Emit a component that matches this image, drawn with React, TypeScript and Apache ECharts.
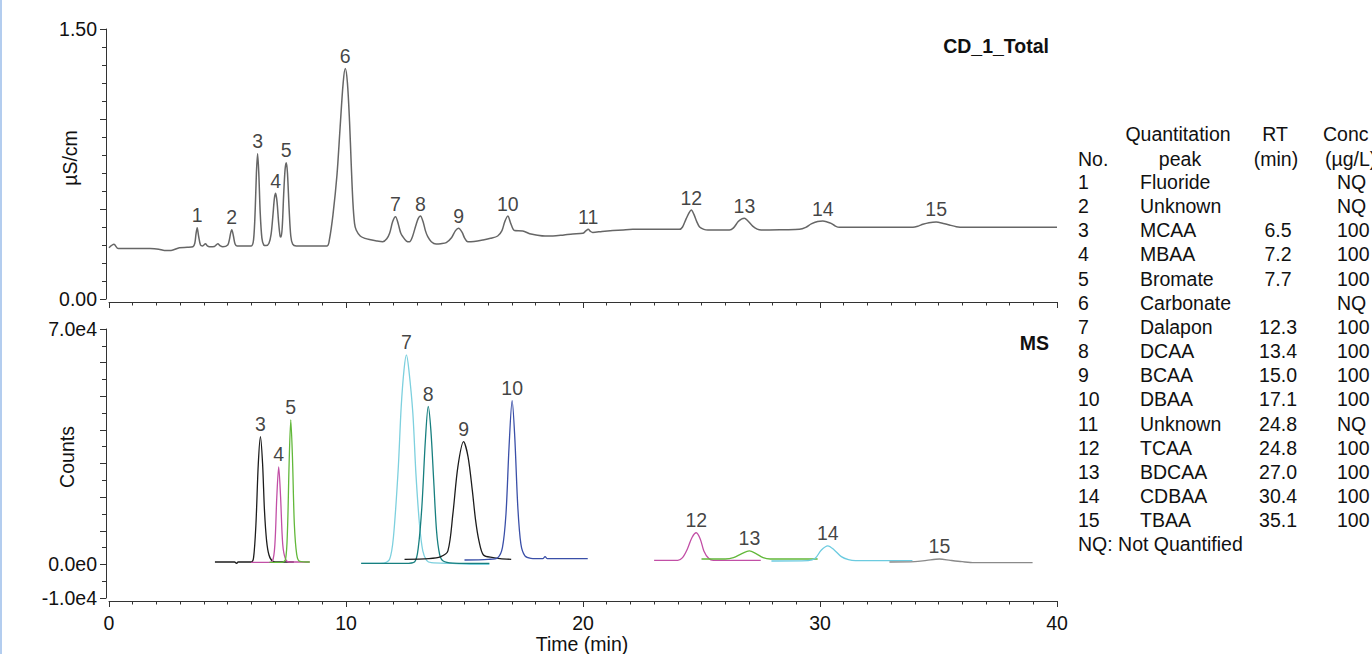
import React, { useEffect, useRef } from "react";
import * as echarts from "echarts";

// ---------- DATA ----------
// Conductivity (CD_1_Total) trace: [time (min), µS/cm]
const cdTrace: number[][] = [
  [0, 0.285], [0.21, 0.304], [0.39, 0.28], [1.0, 0.28], [1.73, 0.28], [2.1, 0.277], [2.34, 0.27], [2.62, 0.27],
  [2.97, 0.285], [3.3, 0.287], [3.54, 0.29], [3.62, 0.31], [3.67, 0.36], [3.72, 0.396], [3.78, 0.35], [3.86, 0.3],
  [3.95, 0.295], [4.07, 0.307], [4.15, 0.295], [4.24, 0.29], [4.45, 0.292], [4.59, 0.307], [4.7, 0.295], [4.8, 0.29],
  [5.01, 0.3], [5.08, 0.33], [5.13, 0.365], [5.18, 0.385], [5.25, 0.35], [5.32, 0.305], [5.4, 0.295], [6.0, 0.295],
  [6.1, 0.33], [6.17, 0.5], [6.22, 0.7], [6.27, 0.807], [6.32, 0.7], [6.38, 0.48], [6.45, 0.34], [6.53, 0.3],
  [6.63, 0.297], [6.75, 0.31], [6.84, 0.36], [6.92, 0.47], [6.98, 0.56], [7.03, 0.587], [7.09, 0.54], [7.16, 0.42],
  [7.22, 0.35], [7.26, 0.345], [7.31, 0.4], [7.37, 0.58], [7.43, 0.72], [7.48, 0.757], [7.53, 0.7], [7.6, 0.5],
  [7.67, 0.35], [7.75, 0.305], [7.9, 0.295], [9.2, 0.295], [9.3, 0.33], [9.45, 0.467], [9.62, 0.69], [9.75, 0.95],
  [9.88, 1.2], [9.97, 1.28], [10.06, 1.2], [10.15, 0.985], [10.22, 0.75], [10.29, 0.54], [10.36, 0.42], [10.43, 0.383],
  [10.6, 0.35], [10.8, 0.337], [10.99, 0.33], [11.3, 0.322], [11.55, 0.318], [11.72, 0.335], [11.84, 0.365], [11.97, 0.43],
  [12.09, 0.457], [12.2, 0.42], [12.3, 0.37], [12.4, 0.346], [12.55, 0.322], [12.68, 0.318], [12.8, 0.345], [12.95, 0.41],
  [13.05, 0.448], [13.14, 0.461], [13.25, 0.43], [13.35, 0.38], [13.45, 0.346], [13.6, 0.318], [13.8, 0.305], [14.0, 0.307],
  [14.23, 0.313], [14.45, 0.34], [14.62, 0.38], [14.75, 0.393], [14.9, 0.37], [15.0, 0.34], [15.14, 0.318], [15.4, 0.32],
  [15.77, 0.328], [16.1, 0.337], [16.4, 0.35], [16.58, 0.38], [16.7, 0.43], [16.83, 0.461], [16.95, 0.42], [17.11, 0.38],
  [17.46, 0.378], [17.75, 0.363], [18.02, 0.356], [18.4, 0.35], [18.73, 0.35], [19.2, 0.356], [19.57, 0.361], [19.99, 0.365],
  [20.12, 0.378], [20.22, 0.387], [20.32, 0.375], [20.41, 0.37], [20.8, 0.375], [21.26, 0.38], [21.7, 0.384], [22.1, 0.387],
  [23.0, 0.387], [24.07, 0.387], [24.2, 0.4], [24.35, 0.445], [24.48, 0.48], [24.57, 0.494], [24.68, 0.47], [24.8, 0.43],
  [24.92, 0.4], [25.1, 0.387], [25.27, 0.383], [26.18, 0.383], [26.35, 0.395], [26.55, 0.43], [26.7, 0.445], [26.81, 0.448],
  [26.95, 0.435], [27.16, 0.405], [27.35, 0.388], [27.52, 0.383], [28.5, 0.385], [29.13, 0.387], [29.4, 0.398], [29.63, 0.417],
  [29.9, 0.43], [30.12, 0.433], [30.3, 0.428], [30.47, 0.42], [30.65, 0.405], [30.82, 0.398], [33.92, 0.398], [34.15, 0.405],
  [34.34, 0.415], [34.6, 0.424], [34.9, 0.428], [35.2, 0.42], [35.46, 0.411], [35.75, 0.402], [36.03, 0.398], [40, 0.398],
];

// CD peak labels
const cdPeakNos = ["1", "2", "3", "4", "5", "6", "7", "8", "9", "10", "11", "12", "13", "14", "15"];
const cdPeakRT = [3.72, 5.18, 6.27, 7.03, 7.48, 9.97, 12.09, 13.14, 14.75, 16.83, 20.22, 24.57, 26.81, 30.12, 34.9];
const cdPeakHeight = [0.396, 0.385, 0.807, 0.587, 0.757, 1.28, 0.457, 0.461, 0.393, 0.461, 0.387, 0.494, 0.448, 0.433, 0.428];

// MS extracted ion traces: [time (min), counts]
const ms3 = [[4.47, 700], [5.3, 700], [5.38, 300], [5.45, 700], [6.0, 700], [6.1, 2000], [6.2, 12000], [6.3, 30000], [6.39, 38000], [6.48, 30000], [6.56, 16000], [6.65, 7000], [6.75, 2800], [6.9, 1000], [7.2, 700], [7.8, 700]];
const ms4 = [[6.0, 600], [6.7, 600], [6.9, 1000], [7.0, 6000], [7.08, 20000], [7.16, 29000], [7.24, 20000], [7.33, 6000], [7.45, 1500], [7.6, 700], [8.47, 700]];
const ms5 = [[6.77, 600], [7.3, 600], [7.45, 1500], [7.53, 10000], [7.6, 30000], [7.67, 43000], [7.74, 32000], [7.82, 12000], [7.92, 3000], [8.05, 900], [8.47, 700]];
const ms7 = [[10.64, 300], [11.6, 400], [11.84, 1500], [12.0, 8000], [12.2, 28000], [12.33, 47000], [12.45, 58000], [12.55, 62300], [12.65, 58000], [12.82, 45000], [12.95, 27000], [13.1, 12000], [13.24, 4000], [13.4, 1200], [13.6, 500], [14.5, 300], [15.5, 0], [16.05, 0]];
const ms8 = [[10.64, 300], [12.5, 300], [12.9, 800], [13.05, 5000], [13.2, 17000], [13.35, 37000], [13.47, 47000], [13.58, 40000], [13.7, 25000], [13.82, 10000], [13.95, 3000], [14.1, 1000], [14.5, 400], [16.05, 300]];
const ms9 = [[12.47, 1500], [13.5, 1700], [14.0, 2300], [14.3, 4000], [14.51, 15000], [14.72, 29000], [14.96, 36500], [15.15, 32000], [15.33, 22000], [15.47, 13000], [15.61, 7000], [15.8, 2800], [16.2, 2000], [16.5, 1700], [16.97, 1500]];
const ms10 = [[15.0, 1300], [16.0, 1500], [16.4, 2000], [16.6, 5000], [16.75, 15000], [16.88, 35000], [17.01, 48700], [17.12, 38000], [17.25, 17000], [17.38, 6000], [17.55, 2500], [17.8, 1800], [18.3, 1700], [18.4, 2300], [18.5, 1700], [20.2, 1700]];
const ms12 = [[23.0, 1200], [24.0, 1200], [24.2, 2000], [24.4, 4500], [24.6, 8000], [24.78, 9400], [24.95, 7500], [25.1, 4000], [25.3, 1800], [25.5, 1200], [27.5, 1200]];
const ms13 = [[25.0, 1600], [26.0, 1600], [26.35, 2000], [26.7, 3200], [27.02, 4000], [27.3, 3200], [27.6, 2000], [27.9, 1600], [29.9, 1600]];
const ms14 = [[27.95, 1000], [29.5, 1100], [29.8, 1800], [30.05, 4200], [30.33, 5500], [30.6, 4300], [30.9, 2300], [31.2, 1400], [31.5, 1100], [33.9, 1100]];
const ms15 = [[32.93, 700], [34.0, 800], [34.5, 1200], [35.04, 1600], [35.5, 1200], [36.0, 800], [36.5, 500], [38.97, 500]];

// MS peak labels
const msPeakNos = ["3", "4", "5", "7", "8", "9", "10", "12", "13", "14", "15"];
const msPeakRT = [6.39, 7.16, 7.67, 12.55, 13.47, 14.96, 17.01, 24.78, 27.02, 30.33, 35.04];
const msPeakHeight = [38000, 29000, 43000, 62300, 47000, 36500, 48700, 9400, 4000, 5500, 1600];

// Tick labels
const xTickLabels = ["0", "10", "20", "30", "40"];
const cdYTicks: [number, string][] = [[0, "0.00"], [1.5, "1.50"]];
const msYTicks: [number, string][] = [[-10000, "-1.0e4"], [0, "0.0e0"], [70000, "7.0e4"]];

// Table
const tableNo = ["1", "2", "3", "4", "5", "6", "7", "8", "9", "10", "11", "12", "13", "14", "15"];
const tableName = ["Fluoride", "Unknown", "MCAA", "MBAA", "Bromate", "Carbonate", "Dalapon", "DCAA", "BCAA", "DBAA", "Unknown", "TCAA", "BDCAA", "CDBAA", "TBAA"];
const tableRT = ["", "", "6.5", "7.2", "7.7", "", "12.3", "13.4", "15.0", "17.1", "24.8", "24.8", "27.0", "30.4", "35.1"];
const tableConc = ["NQ", "NQ", "100", "100", "100", "NQ", "100", "100", "100", "100", "NQ", "100", "100", "100", "100"];

// ---------- STYLE ----------
const FONT = '"Liberation Sans", Arial, Helvetica, sans-serif';
const FS = 19.5;
const AXIS_COLOR = "#333";

const msTraces: { data: number[][]; color: string }[] = [
  { data: ms3, color: "#1c1c1c" },
  { data: ms4, color: "#c24fa6" },
  { data: ms5, color: "#62b83a" },
  { data: ms7, color: "#7dd0de" },
  { data: ms8, color: "#177f7f" },
  { data: ms9, color: "#1c1c1c" },
  { data: ms10, color: "#3a4fa8" },
  { data: ms12, color: "#c24fa6" },
  { data: ms13, color: "#62b83a" },
  { data: ms14, color: "#6ccbe0" },
  { data: ms15, color: "#8a8a8a" },
];

function makeX(gridIndex: number, showLabels: boolean) {
  return {
    type: "value",
    gridIndex,
    min: 0,
    max: 40,
    interval: 10,
    offset: 3,
    axisLine: { show: true, onZero: false, lineStyle: { color: AXIS_COLOR, width: 1 } },
    axisTick: { show: true, length: 6, lineStyle: { color: AXIS_COLOR } },
    minorTick: { show: true, splitNumber: 10, length: 3.5, lineStyle: { color: AXIS_COLOR } },
    splitLine: { show: false },
    minorSplitLine: { show: false },
    axisLabel: {
      show: showLabels,
      margin: 12,
      color: "#111",
      fontFamily: FONT,
      fontSize: FS,
      formatter: (v: number) => {
        const i = Math.round(v / 10);
        return xTickLabels[i] ?? "";
      },
    },
  };
}

function makeY(gridIndex: number, min: number, max: number, interval: number, ticks: [number, string][], minorSplit: number) {
  return {
    type: "value",
    gridIndex,
    min,
    max,
    interval,
    offset: 3,
    axisLine: { show: true, onZero: false, lineStyle: { color: AXIS_COLOR, width: 1 } },
    axisTick: { show: true, length: 6, lineStyle: { color: AXIS_COLOR } },
    minorTick: { show: true, splitNumber: minorSplit, length: 4, lineStyle: { color: AXIS_COLOR } },
    splitLine: { show: false },
    minorSplitLine: { show: false },
    axisLabel: {
      margin: 9,
      color: "#111",
      fontFamily: FONT,
      fontSize: FS,
      formatter: (v: number) => {
        const t = ticks.find((p) => Math.abs(p[0] - v) < 1e-9);
        return t ? t[1] : "";
      },
    },
  };
}

function labelSeries(xAxisIndex: number, nos: string[], rts: number[], hs: number[]) {
  return {
    type: "scatter",
    xAxisIndex,
    yAxisIndex: xAxisIndex,
    symbolSize: 1,
    itemStyle: { color: "rgba(0,0,0,0)" },
    silent: true,
    z: 5,
    label: {
      show: true,
      position: "top",
      distance: 2,
      formatter: (p: any) => p.name,
      color: "#111",
      fontFamily: FONT,
      fontSize: FS,
    },
    data: nos.map((n, i) => ({ name: n, value: [rts[i], hs[i]] })),
  };
}

function textEl(text: string, x: number, y: number, align: string, opts: any = {}) {
  return {
    type: "text",
    x,
    y,
    rotation: opts.rotation || 0,
    silent: true,
    style: {
      text,
      fill: "#111",
      font: `${opts.bold ? "bold " : ""}${opts.size || FS}px ${FONT}`,
      align,
      verticalAlign: "middle",
    },
  };
}

function buildGraphics() {
  const g: any[] = [];
  g.push({ type: "rect", shape: { x: 0, y: 0, width: 2, height: 654 }, style: { fill: "#b3cdef" }, silent: true });
  g.push(textEl("CD_1_Total", 1049, 46, "right", { bold: true }));
  g.push(textEl("MS", 1049, 343, "right", { bold: true }));
  g.push(textEl("µS/cm", 70, 158, "center", { rotation: Math.PI / 2 }));
  g.push(textEl("Counts", 67, 457, "center", { rotation: Math.PI / 2 }));
  g.push(textEl("Time (min)", 582, 644, "center"));
  // table headers
  g.push(textEl("Quantitation", 1178, 134, "center"));
  g.push(textEl("RT", 1275, 134, "center"));
  g.push(textEl("Conc", 1323, 134, "left"));
  g.push(textEl("No.", 1078, 159, "left"));
  g.push(textEl("peak", 1180, 159, "center"));
  g.push(textEl("(min)", 1276, 159, "center"));
  g.push(textEl("(µg/L)", 1325, 159, "left"));
  const y0 = 182;
  const dy = 24.15;
  tableNo.forEach((n, i) => {
    const y = y0 + i * dy;
    g.push(textEl(n, 1078, y, "left"));
    g.push(textEl(tableName[i], 1140, y, "left"));
    if (tableRT[i]) g.push(textEl(tableRT[i], 1278, y, "center"));
    g.push(textEl(tableConc[i], 1337, y, "left"));
  });
  g.push(textEl("NQ: Not Quantified", 1078, y0 + tableNo.length * dy, "left"));
  return g;
}

export default function App() {
  const ref = useRef<HTMLDivElement>(null);
  useEffect(() => {
    if (!ref.current) return;
    const chart = echarts.init(ref.current, undefined, { renderer: "svg" });
    const series: any[] = [
      {
        type: "line",
        xAxisIndex: 0,
        yAxisIndex: 0,
        data: cdTrace,
        showSymbol: false,
        smooth: 0.3,
        lineStyle: { color: "#666", width: 1.5 },
        silent: true,
      },
      ...msTraces.map((t) => ({
        type: "line",
        xAxisIndex: 1,
        yAxisIndex: 1,
        data: t.data,
        showSymbol: false,
        smooth: 0.3,
        lineStyle: { color: t.color, width: 1.3 },
        silent: true,
      })),
      labelSeries(0, cdPeakNos, cdPeakRT, cdPeakHeight),
      labelSeries(1, msPeakNos, msPeakRT, msPeakHeight),
    ];
    chart.setOption({
      animation: false,
      backgroundColor: "#fff",
      grid: [
        { left: 109, top: 29, width: 948, height: 270 },
        { left: 109, top: 329, width: 948, height: 269 },
      ],
      xAxis: [makeX(0, false), makeX(1, true)],
      yAxis: [
        makeY(0, 0, 1.5, 0.5, cdYTicks, 5),
        makeY(1, -10000, 70000, 10000, msYTicks, 2),
      ],
      series,
      graphic: buildGraphics(),
    });
    return () => chart.dispose();
  }, []);
  return <div ref={ref} style={{ position: "fixed", left: 0, top: 0, width: 1372, height: 654, background: "#fff" }} />;
}
